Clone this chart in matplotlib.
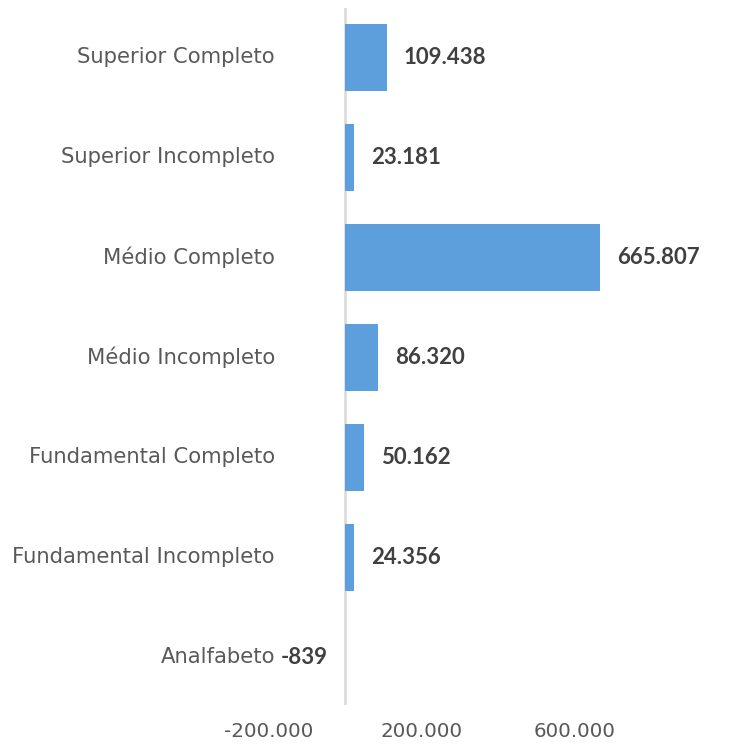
import matplotlib
matplotlib.use('Agg')
import matplotlib.pyplot as plt

categories = [
    'Analfabeto',
    'Fundamental Incompleto',
    'Fundamental Completo',
    'Médio Incompleto',
    'Médio Completo',
    'Superior Incompleto',
    'Superior Completo',
]
values = [-839, 24356, 50162, 86320, 665807, 23181, 109438]
value_labels = ['-839', '24.356', '50.162', '86.320', '665.807', '23.181', '109.438']
tick_values = [-200000, 200000, 600000]
tick_labels = ['-200.000', '200.000', '600.000']

plt.rcParams['font.family'] = ['DejaVu Sans']

W, H = 731, 744
fig = plt.figure(figsize=(W / 100, H / 100), dpi=100)
top_px, bottom_px = 8, 705
ax = fig.add_axes([0, 1 - bottom_px / H, 1, (bottom_px - top_px) / H])

# pixel mapping: zero at x=345, 665807 ends at x=600
zero_px = 345
scale = (600 - zero_px) / 665807
ax.set_xlim(-zero_px / scale, (W - zero_px) / scale)
ax.set_ylim(-0.48, 6.49)

ys = list(range(len(categories)))
ax.barh(ys, values, height=0.67, color='#5d9fdd', zorder=2)
ax.axvline(0, color='#d9d9d9', lw=1.8, zorder=1)

for y, name, v, lab in zip(ys, categories, values, value_labels):
    ax.annotate(name, xy=(0, y), xytext=(-70, 0), textcoords='offset pixels',
                ha='right', va='center', fontsize=15.2, color='#595959')
    off = 17 if v >= 0 else -17
    ax.annotate(lab, xy=(v, y), xytext=(off, 0), textcoords='offset pixels',
                ha='left' if v >= 0 else 'right', va='center',
                fontsize=16, fontweight='bold', color='#404040',
                family=['Lato', 'DejaVu Sans'])

ax.set_xticks(tick_values)
ax.set_xticklabels(tick_labels, fontsize=14.3, color='#595959')
ax.tick_params(axis='x', length=0, pad=12)
ax.set_yticks([])
for s in ax.spines.values():
    s.set_visible(False)

fig.savefig('out.png', dpi=100)
